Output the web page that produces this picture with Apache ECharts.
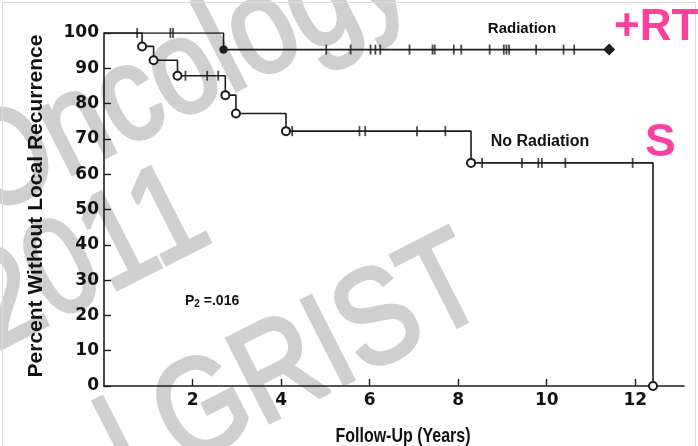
<!DOCTYPE html>
<html>
<head>
<meta charset="utf-8">
<script src="https://cdn.jsdelivr.net/npm/echarts@6/dist/echarts.min.js"></script>
<style>
  html, body { margin: 0; padding: 0; background: #fff; }
  #chart { width: 698px; height: 446px; }
</style>
</head>
<body>
<div id="chart"></div>
<script>
// Kaplan–Meier estimates: event times (years) and percent without local recurrence
const radiationTimes = [0, 2.70, 11.41];
const radiationPercent = [100, 95.3, 95.3];
const radiationCensored = [0.75, 1.50, 1.56, 5.02, 5.57, 6.02, 6.13, 6.24, 6.90, 7.42, 7.47,
  7.90, 8.07, 8.71, 9.03, 9.09, 9.15, 9.76, 10.38, 10.62];

const noRadiationTimes = [0, 0.86, 1.12, 1.66, 2.74, 2.98, 4.11, 8.29, 12.40];
const noRadiationPercent = [100, 96.2, 92.3, 87.9, 82.4, 77.2, 72.2, 63.2, 0];
const noRadiationCensored = [1.84, 2.33, 2.58, 4.25, 5.77, 5.90, 7.07, 7.71, 8.54, 9.44,
  9.81, 9.89, 10.42, 11.94];

const xTickLabels = [2, 4, 6, 8, 10, 12];
const yTickLabels = [0, 10, 20, 30, 40, 50, 60, 70, 80, 90, 100];

const INK = '#1c1c1c';
const PINK = '#fd3fa0';
const WATERMARK = '#cfcfcf';

// value of a right-continuous step curve at time t
function stepValue(times, values, t) {
  let v = values[0];
  for (let i = 0; i < times.length; i++) {
    if (times[i] <= t) v = values[i];
  }
  return v;
}

function curveData(times, values, markerFor) {
  return times.map((t, i) => {
    const m = markerFor(i);
    return { value: [t, values[i]], symbol: m.symbol, symbolSize: m.size };
  });
}

const radiationLine = curveData(radiationTimes, radiationPercent, i =>
  i === 0 ? { symbol: 'none', size: 0 }
  : i === radiationTimes.length - 1 ? { symbol: 'diamond', size: 10 }
  : { symbol: 'circle', size: 7 });

const noRadiationLine = curveData(noRadiationTimes, noRadiationPercent, i =>
  i === 0 ? { symbol: 'none', size: 0 } : { symbol: 'emptyCircle', size: 8 });

const radiationTicks = radiationCensored.map(t => [t, stepValue(radiationTimes, radiationPercent, t)]);
const noRadiationTicks = noRadiationCensored.map(t => [t, stepValue(noRadiationTimes, noRadiationPercent, t)]);

const deg = Math.PI / 180;

// slanted background stamp
function stamp(text, x, y) {
  return {
    type: 'text', x, y, rotation: 27 * deg, scaleX: 0.84, z: -10, silent: true,
    style: {
      text,
      font: '136px "Liberation Sans", Arial, sans-serif',
      fill: WATERMARK, stroke: WATERMARK, lineWidth: 4,
      textAlign: 'left', textVerticalAlign: 'bottom'
    }
  };
}

const chart = echarts.init(document.getElementById('chart'), null, { renderer: 'canvas' });

chart.setOption({
  animation: false,
  backgroundColor: '#fff',
  grid: { left: 104, right: 14, top: 33, bottom: 60, containLabel: false },
  xAxis: {
    type: 'value',
    min: 0,
    max: 13.1,
    splitLine: { show: false },
    axisLine: { lineStyle: { color: INK, width: 1.6 } },
    axisTick: { inside: true, length: 7, customValues: xTickLabels, lineStyle: { color: INK, width: 1.4 } },
    axisLabel: {
      customValues: xTickLabels,
      margin: 6,
      color: '#111',
      fontFamily: '"DejaVu Sans", sans-serif',
      fontWeight: 'bold',
      fontSize: 17
    }
  },
  yAxis: {
    type: 'value',
    min: 0,
    max: 100,
    interval: 10,
    splitLine: { show: false },
    axisLine: { show: true, lineStyle: { color: INK, width: 1.6 } },
    axisTick: { show: true, inside: true, length: 7, lineStyle: { color: INK, width: 1.4 } },
    axisLabel: {
      margin: 5,
      color: '#111',
      fontFamily: '"DejaVu Sans", sans-serif',
      fontWeight: 'bold',
      fontSize: 17,
      formatter: v => (yTickLabels.indexOf(v) >= 0 ? String(v) : '')
    }
  },
  series: [
    {
      name: 'Radiation',
      type: 'line',
      step: 'end',
      data: radiationLine,
      showAllSymbol: true,
      lineStyle: { color: INK, width: 1.6 },
      itemStyle: { color: INK, borderColor: INK, borderWidth: 1.4 },
      z: 3
    },
    {
      name: 'No Radiation',
      type: 'line',
      step: 'end',
      data: noRadiationLine,
      showAllSymbol: true,
      lineStyle: { color: INK, width: 1.6 },
      itemStyle: { color: INK, borderWidth: 1.6 },
      z: 4
    },
    {
      name: 'Radiation censored',
      type: 'scatter',
      data: radiationTicks,
      symbol: 'rect',
      symbolSize: [1.8, 10],
      itemStyle: { color: INK },
      z: 5
    },
    {
      name: 'No Radiation censored',
      type: 'scatter',
      data: noRadiationTicks,
      symbol: 'rect',
      symbolSize: [1.8, 10],
      itemStyle: { color: INK },
      z: 5
    }
  ],
  graphic: [
    stamp('Oncology', 0, 245),
    stamp('2011', 10, 378),
    stamp('l GRIST', 145, 520),
    // frame
    { type: 'rect', shape: { x: 2.5, y: 2.5, width: 693, height: 450 }, z: -5, silent: true,
      style: { fill: 'none', stroke: '#dcdcdc', lineWidth: 1 } },
    // axis titles
    { type: 'text', x: 36, y: 206, rotation: 90 * deg, silent: true,
      style: { text: 'Percent Without Local Recurrence', font: 'bold 21px "Liberation Sans", Arial, sans-serif',
        fill: '#111', textAlign: 'center', textVerticalAlign: 'middle' } },
    { type: 'text', x: 403, y: 436, scaleX: 0.8, silent: true,
      style: { text: 'Follow-Up (Years)', font: 'bold 20px "Liberation Sans", Arial, sans-serif',
        fill: '#111', textAlign: 'center', textVerticalAlign: 'middle' } },
    // curve labels
    { type: 'text', x: 522, y: 29, silent: true,
      style: { text: 'Radiation', font: 'bold 15px "Liberation Sans", Arial, sans-serif',
        fill: '#111', textAlign: 'center', textVerticalAlign: 'middle' } },
    { type: 'text', x: 540, y: 142, silent: true,
      style: { text: 'No Radiation', font: 'bold 16px "Liberation Sans", Arial, sans-serif',
        fill: '#111', textAlign: 'center', textVerticalAlign: 'middle' } },
    { type: 'text', x: 185, y: 301, silent: true,
      style: {
        text: '{p|P}{s|2}{p| =.016}',
        textAlign: 'left', textVerticalAlign: 'middle',
        rich: {
          p: { font: 'bold 14px "Liberation Sans", Arial, sans-serif', fill: '#111' },
          s: { font: 'bold 10px "Liberation Sans", Arial, sans-serif', fill: '#111', padding: [6, 0, 0, 0] }
        }
      } },
    // group markers
    { type: 'text', x: 614, y: 28, silent: true,
      style: { text: '+RT', font: 'bold 44px "Liberation Sans", Arial, sans-serif',
        fill: PINK, textAlign: 'left', textVerticalAlign: 'middle' } },
    { type: 'text', x: 645, y: 143, silent: true,
      style: { text: 'S', font: 'bold 46px "Liberation Sans", Arial, sans-serif',
        fill: PINK, textAlign: 'left', textVerticalAlign: 'middle' } }
  ]
});
</script>
</body>
</html>
